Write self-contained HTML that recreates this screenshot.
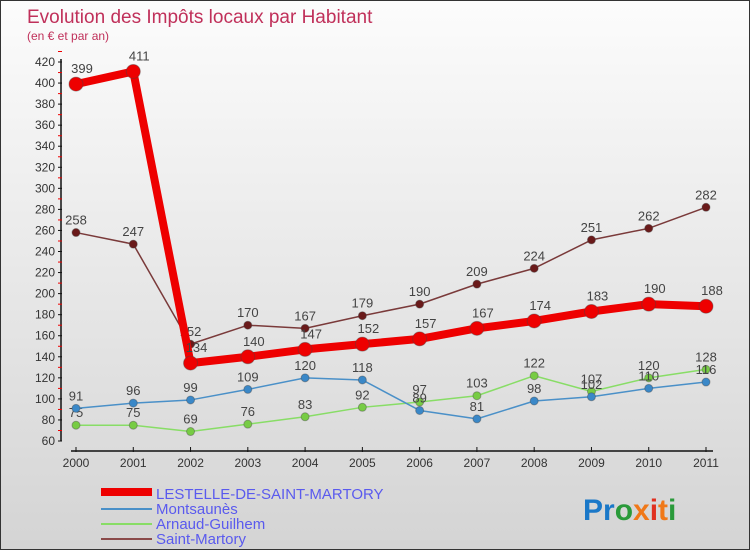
<!DOCTYPE html>
<html><head><meta charset="utf-8"><style>
body{margin:0}
#wrap{width:750px;height:550px;position:relative;overflow:hidden;box-sizing:border-box;border:1px solid #333;background:linear-gradient(#fcfcfc,#d4d4d4);font-family:"Liberation Sans",sans-serif}
</style></head><body>
<div id="wrap">
<svg id="svg" width="750" height="550" style="position:absolute;left:0;top:0">
<text x="26" y="22" font-size="19" fill="#c0305a">Evolution des Impôts locaux par Habitant</text>
<text x="26" y="39" font-size="12" fill="#c0305a">(en € et par an)</text>
<g id="axes"></g><g id="series"></g>
<g>
<rect x="100" y="487" width="51" height="8" fill="#e00"/>
<text x="155" y="498" font-size="15" fill="#5a5aee">LESTELLE-DE-SAINT-MARTORY</text>
<line x1="100" y1="508" x2="151" y2="508" stroke="#4a90c8" stroke-width="2"/>
<text x="155" y="513" font-size="15" fill="#5a5aee">Montsaunès</text>
<line x1="100" y1="523" x2="151" y2="523" stroke="#88dd66" stroke-width="2"/>
<text x="155" y="528" font-size="15" fill="#5a5aee">Arnaud-Guilhem</text>
<line x1="100" y1="538" x2="151" y2="538" stroke="#8a4a4a" stroke-width="2"/>
<text x="155" y="543" font-size="15" fill="#5a5aee">Saint-Martory</text>
</g>
<text x="582" y="519" font-size="30" font-weight="bold"><tspan fill="#1a78c8">Pr</tspan><tspan fill="#2a9a3a">o</tspan><tspan fill="#f07818">x</tspan><tspan fill="#e03020">i</tspan><tspan fill="#f07818">t</tspan><tspan fill="#2a9a3a">i</tspan></text>
</svg>
</div>
<script>
const years=["2000","2001","2002","2003","2004","2005","2006","2007","2008","2009","2010","2011"];
const lestelle=[399,411,134,140,147,152,157,167,174,183,190,188];
const montsaunes=[91,96,99,109,120,118,89,81,98,102,110,116];
const arnaud=[75,75,69,76,83,92,97,103,122,107,120,128];
const saintMartory=[258,247,152,170,167,179,190,209,224,251,262,282];
const yTicks=[60,80,100,120,140,160,180,200,220,240,260,280,300,320,340,360,380,400,420];
const NS="http://www.w3.org/2000/svg";
const xs=i=>75+i*(630/11);
const ys=v=>440-(v-60)*(379/360);
function mk(t,a,p){const e=document.createElementNS(NS,t);for(const k in a)e.setAttribute(k,a[k]);p.appendChild(e);return e;}
const ax=document.getElementById('axes');
let l=mk('line',{x1:60,y1:ys(420)-3,x2:60,y2:ys(60),stroke:'#111','stroke-width':1.5},ax);


yTicks.forEach(v=>{const y=ys(v);
 mk('line',{x1:57,y1:y,x2:61,y2:y,stroke:'#111'},ax);
 mk('line',{x1:57,y1:y-10.5,x2:61,y2:y-10.5,stroke:'#e00'},ax);
 const t=mk('text',{x:54,y:y+4,'font-size':12,fill:'#333','text-anchor':'end'},ax);t.textContent=v;
 
 });
l=mk('line',{x1:70,y1:450,x2:712,y2:450,stroke:'#111','stroke-width':1.5},ax);


years.forEach((yr,i)=>{const x=xs(i);mk('line',{x1:x,y1:446,x2:x,y2:451,stroke:'#111'},ax);
 const t=mk('text',{x:x,y:466,'font-size':12,fill:'#333','text-anchor':'middle'},ax);t.textContent=yr;
 
 });
const sg=document.getElementById('series');
function series(data,color,w,r,name,dot){
 const g=mk('g',{},sg);
 
 
 mk('polyline',{points:data.map((v,i)=>xs(i)+','+ys(v)).join(' '),fill:'none',stroke:color,'stroke-width':w,'stroke-linejoin':'round'},g);
 data.forEach((v,i)=>{const c=mk('circle',{cx:xs(i),cy:ys(v),r:r,fill:dot,stroke:'#444','stroke-opacity':0.4},g);
  
  
  const t=mk('text',{x:xs(i)+(r>5?6:0),y:ys(v)-r-4,'font-size':13,fill:'#444','text-anchor':'middle'},g);t.textContent=v;
  
  });
}
series(saintMartory,'#7a3a3a',1.5,4,'saint-martory','#6a1a1a');
series(arnaud,'#88dd66',1.5,4,'arnaud-guilhem','#77cc44');
series(montsaunes,'#4a90c8',1.5,4,'montsaunes','#3a88c8');
series(lestelle,'#ee0000',8,7,'lestelle','#ee0000');
</script>
</body></html>
